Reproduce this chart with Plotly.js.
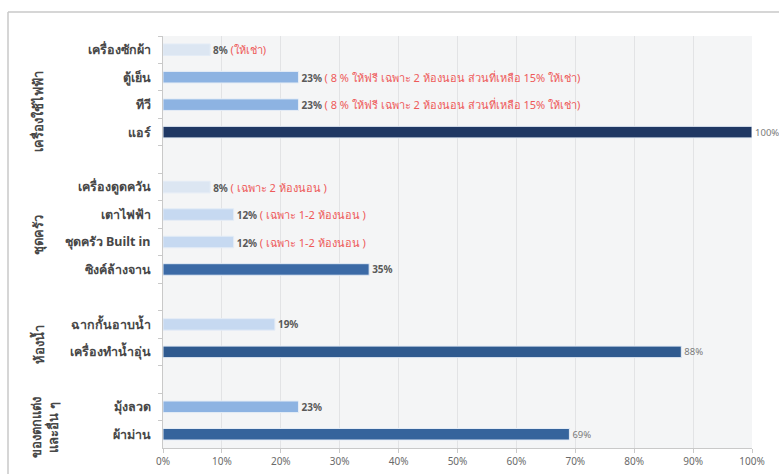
<!DOCTYPE html>
<html>
<head>
<meta charset="utf-8">
<script src="https://cdn.plot.ly/plotly-3.0.1.min.js"></script>
<style>
html,body{margin:0;padding:0;overflow:hidden;background:#fff;}
#chart{width:779px;height:474px;}
</style>
</head>
<body>
<div id="chart"></div>
<script>
// Items top-to-bottom
const items = ['เครื่องซักผ้า','ตู้เย็น','ทีวี','แอร์','เครื่องดูดควัน','เตาไฟฟ้า','ชุดครัว Built in','ซิงค์ล้างจาน','ฉากกั้นอาบน้ำ','เครื่องทำน้ำอุ่น','มุ้งลวด','ผ้าม่าน'];
const values = [0.08, 0.23, 0.23, 1.00, 0.08, 0.12, 0.12, 0.35, 0.19, 0.88, 0.23, 0.69];
const notes = ['(ให้เช่า)', '( 8 % ให้ฟรี เฉพาะ 2 ห้องนอน ส่วนที่เหลือ 15% ให้เช่า)', '( 8 % ให้ฟรี เฉพาะ 2 ห้องนอน ส่วนที่เหลือ 15% ให้เช่า)', '', '( เฉพาะ 2 ห้องนอน )', '( เฉพาะ 1-2 ห้องนอน )', '( เฉพาะ 1-2 ห้องนอน )', '', '', '', '', ''];
const boldLabel = [true, true, true, false, true, true, true, true, true, false, true, false];
const barColors = ['#dce6f2','#8db3e2','#8db3e2','#1f3864','#dce6f2','#c6d9f1','#c6d9f1','#3b6aa6','#c6d9f1','#2f5a8f','#8db3e2','#36649c'];
// category order with blank separator slots between groups
const categoryOrder = ['เครื่องซักผ้า','ตู้เย็น','ทีวี','แอร์',' ','เครื่องดูดควัน','เตาไฟฟ้า','ชุดครัว Built in','ซิงค์ล้างจาน','  ','ฉากกั้นอาบน้ำ','เครื่องทำน้ำอุ่น','   ','มุ้งลวด','ผ้าม่าน'];
const groups = ['เครื่องใช้ไฟฟ้า','ชุดครัว','ห้องน้ำ','ของตกแต่ง<br>และอื่น ๆ'];
const xTickVals = [0,0.1,0.2,0.3,0.4,0.5,0.6,0.7,0.8,0.9,1.0];
const xTickText = ['0%','10%','20%','30%','40%','50%','60%','70%','80%','90%','100%'];

const FONT = 'Tahoma, "Noto Sans", "DejaVu Sans", sans-serif';

const labels = values.map((v, i) => {
  const num = Math.round(v * 100) + '%';
  const pct = boldLabel[i] ? '<b>' + num + '</b>' : '<span style="font-size:9.5px;color:#7a7a7a">' + num + '</span>';
  return notes[i] ? pct + ' <span style="color:#ee5a5a;font-size:11px">' + notes[i] + '</span>' : pct;
});

const trace = {
  type: 'bar',
  orientation: 'h',
  y: items,
  x: values,
  width: 0.42,
  marker: {color: barColors, line: {color: '#e4ecf6', width: 1}},
  text: labels,
  textposition: 'outside',
  constraintext: 'none',
  cliponaxis: false,
  textfont: {family: FONT, size: 10, color: '#595959'},
  hoverinfo: 'none'
};

const annPos = [
  {x: -0.212, y: (448 - 112) / 412},
  {x: -0.212, y: (448 - 235) / 412},
  {x: -0.212, y: (448 - 345) / 412},
  {x: -0.202, y: (448 - 428) / 412}
];

const layout = {
  width: 779, height: 474,
  margin: {l: 163, r: 27, t: 36, b: 26},
  paper_bgcolor: '#ffffff',
  plot_bgcolor: '#f4f5f6',
  showlegend: false,
  xaxis: {
    range: [0, 1],
    tickvals: xTickVals,
    ticktext: xTickText,
    showgrid: true,
    gridcolor: '#e2e3e5',
    gridwidth: 1,
    zeroline: false,
    showline: true,
    linecolor: '#c9c9c9',
    ticks: 'outside',
    ticklen: 4,
    tickcolor: '#c9c9c9',
    tickfont: {family: FONT, size: 10, color: '#6a6a6a'},
    fixedrange: true
  },
  yaxis: {
    type: 'category',
    categoryorder: 'array',
    categoryarray: categoryOrder,
    range: [categoryOrder.length - 0.5, -0.5],
    showline: true,
    linecolor: '#c9c9c9',
    ticks: 'outside',
    tickson: 'boundaries',
    ticklen: 4,
    tickcolor: '#c9c9c9',
    showgrid: false,
    tickfont: {family: FONT, size: 12.5, color: '#474747', weight: 'bold'},
    ticklabelstandoff: 9,
    fixedrange: true
  },
  annotations: groups.map((g, i) => ({
    text: '<b>' + g + '</b>',
    xref: 'paper', yref: 'paper',
    x: annPos[i].x, y: annPos[i].y,
    xanchor: 'center', yanchor: 'middle',
    textangle: -90,
    showarrow: false,
    font: {family: FONT, size: 13, color: '#474747'}
  })),
  shapes: [
    {type: 'line', xref: 'paper', yref: 'paper', x0: (8 - 163) / 589, x1: 1.2, y0: (448 - 12) / 412, y1: (448 - 12) / 412, line: {color: '#c8c8c8', width: 1.5}},
    {type: 'line', xref: 'paper', yref: 'paper', x0: (8 - 163) / 589, x1: (8 - 163) / 589, y0: -0.2, y1: (448 - 12) / 412, line: {color: '#c8c8c8', width: 1.5}}
  ]
};

Plotly.newPlot('chart', [trace], layout, {displayModeBar: false, staticPlot: true});
</script>
</body>
</html>
